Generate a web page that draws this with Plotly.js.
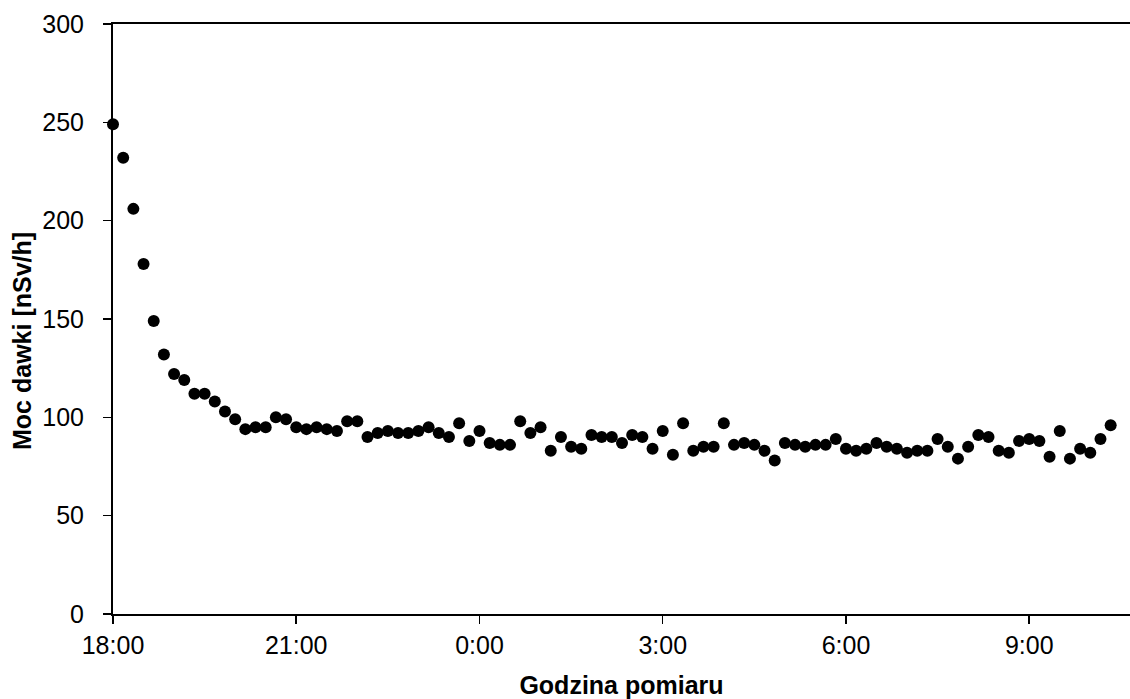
<!DOCTYPE html>
<html>
<head>
<meta charset="utf-8">
<script src="https://cdn.plot.ly/plotly-3.0.1.min.js"></script>
<style>html,body{margin:0;padding:0;background:#fff;}#chart{width:1130px;height:699px;}</style>
</head>
<body>
<div id="chart"></div>
<script>
// Measurement start and interval (minutes)
const startTime = "2020-01-01 18:00";
const intervalMinutes = 10;
// Dose rate values [nSv/h]
const doseRate = [249,232,206,178,149,132,122,119,112,112,108,103,99,94,95,95,100,99,95,94,
  95,94,93,98,98,90,92,93,92,92,93,95,92,90,97,88,93,87,86,86,
  98,92,95,83,90,85,84,91,90,90,87,91,90,84,93,81,97,83,85,85,
  97,86,87,86,83,78,87,86,85,86,86,89,84,83,84,87,85,84,82,83,
  83,89,85,79,85,91,90,83,82,88,89,88,80,93,79,84,82,89,96];
const xTickLabelsFormat = "%-H:%M";
const yTicks = [0,50,100,150,200,250,300];
const xTitle = "Godzina pomiaru";
const yTitle = "Moc dawki [nSv/h]";

function pad(n){return (n<10?"0":"")+n;}
const t0 = new Date(startTime.replace(" ","T")+":00Z").getTime();
const times = doseRate.map((_,i)=>{
  const d = new Date(t0 + i*intervalMinutes*60000);
  return d.getUTCFullYear()+"-"+pad(d.getUTCMonth()+1)+"-"+pad(d.getUTCDate())+" "+pad(d.getUTCHours())+":"+pad(d.getUTCMinutes());
});

const trace = {
  x: times, y: doseRate, type: "scatter", mode: "markers",
  marker: {color: "#000", size: 12, line: {width: 0}},
  cliponaxis: false, hoverinfo: "x+y"
};
const tickFont = {family: "Liberation Sans, Arial, sans-serif", color: "#000", size: 25};
const titleFont = {family: "Liberation Sans, Arial, sans-serif", color: "#000", size: 25};
const layout = {
  width: 1130, height: 699,
  margin: {l: 113, r: 0, t: 24, b: 85},
  paper_bgcolor: "#fff", plot_bgcolor: "#fff",
  font: tickFont, showlegend: false,
  xaxis: {
    type: "date",
    range: ["2020-01-01 18:00", "2020-01-02 10:39"],
    tick0: "2020-01-01 18:00", dtick: 3*3600*1000,
    tickformat: xTickLabelsFormat,
    showgrid: false, zeroline: false,
    showline: true, mirror: true, linecolor: "#000", linewidth: 2,
    ticks: "outside", ticklen: 8, tickwidth: 1.5, tickcolor: "#000",
    ticklabelstandoff: 0,
    tickfont: tickFont,
    title: {text: "<b>" + xTitle + "</b>", font: titleFont, standoff: 22}
  },
  yaxis: {
    range: [0, 300], tickvals: yTicks,
    showgrid: false, zeroline: false,
    showline: true, linecolor: "#000", linewidth: 2,
    ticks: "outside", ticklen: 8, tickwidth: 1.5, tickcolor: "#000",
    ticklabelstandoff: 14,
    tickfont: tickFont,
    title: {text: ""}
  },
  annotations: [{
    text: "<b>" + yTitle + "</b>", font: titleFont, textangle: -90,
    xref: "paper", yref: "paper", x: -0.0895, y: 0.4627,
    xanchor: "center", yanchor: "middle", showarrow: false
  }]
};
Plotly.newPlot("chart", [trace], layout, {displayModeBar: false, staticPlot: true});
</script>
</body>
</html>
